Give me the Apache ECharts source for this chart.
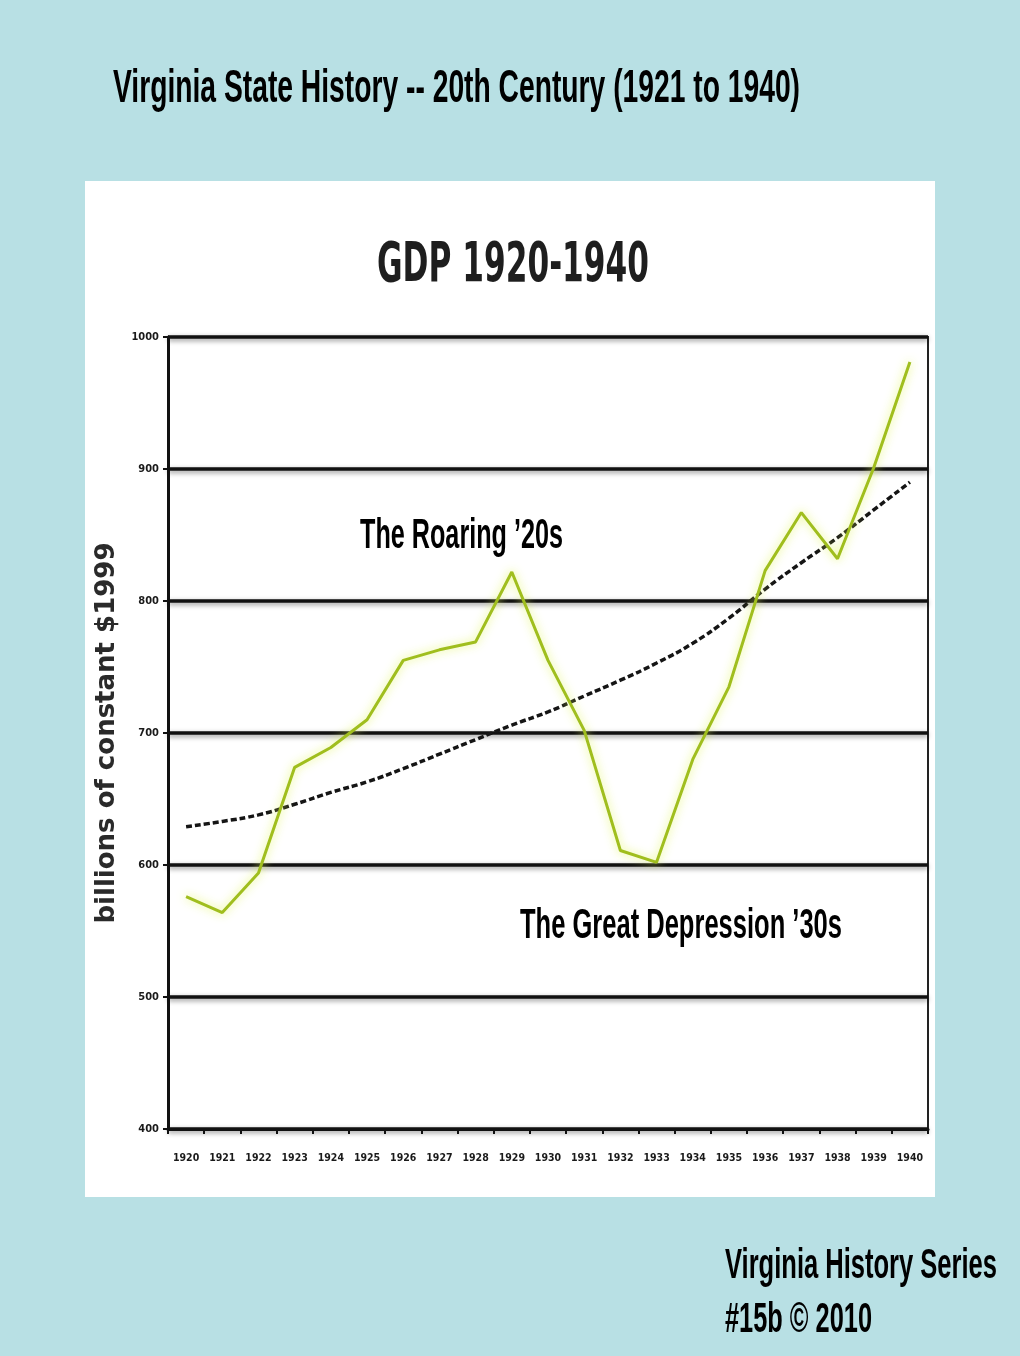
<!DOCTYPE html>
<html>
<head>
<meta charset="utf-8">
<script src="https://cdn.jsdelivr.net/npm/echarts@6/dist/echarts.min.js"></script>
<style>
  html, body { margin: 0; padding: 0; background: #b8e0e4; }
  #chart { width: 1020px; height: 1356px; }
</style>
</head>
<body>
<div id="chart"></div>
<script>
// years on the x axis
const years = ['1920', '1921', '1922', '1923', '1924', '1925', '1926', '1927', '1928', '1929', '1930',
  '1931', '1932', '1933', '1934', '1935', '1936', '1937', '1938', '1939', '1940'];
// GDP, billions of constant $1999
const gdp = [576, 564, 594, 674, 689, 710, 755, 763, 769, 822, 755,
  702, 611, 602, 680, 735, 823, 867, 832, 901, 981];
// dotted trend line
const trend = [629, 633, 638, 646, 655, 663, 673, 684, 695, 706, 716,
  728, 740, 753, 768, 787, 809, 829, 848, 869, 890];
const yTicks = [400, 500, 600, 700, 800, 900, 1000];

// the slide uses a narrow bold face; squeeze a normal one to the same width
const narrow = 'bold 46px "Liberation Sans", Arial, sans-serif';
const ctx = document.createElement('canvas').getContext('2d');
function squeeze(text, font, width) {
  ctx.font = font;
  return width / ctx.measureText(text).width;
}
function label(text, font, x, y, width, fill) {
  return {
    type: 'text',
    x: x,
    y: y,
    scaleX: squeeze(text, font, width),
    style: { x: 0, y: 0, text: text, font: font, fill: fill || '#000', align: 'left', verticalAlign: 'middle' }
  };
}

const myChart = echarts.init(document.getElementById('chart'));

const option = {
  backgroundColor: '#b8e0e4',
  animation: false,
  graphic: [
    {
      type: 'rect',
      z: -100,
      silent: true,
      shape: { x: 85, y: 181, width: 850, height: 1016 },
      style: { fill: '#ffffff' }
    },
    label('Virginia State History -- 20th Century (1921 to 1940)', narrow, 113, 89, 687),
    label('The Roaring \u201920s', 'bold 42px "Liberation Sans", Arial, sans-serif', 360, 536, 203),
    label('The Great Depression \u201930s', 'bold 42px "Liberation Sans", Arial, sans-serif', 520, 926, 322),
    label('Virginia History Series', 'bold 42px "Liberation Sans", Arial, sans-serif', 725, 1266, 272),
    label('#15b \u00a9 2010', 'bold 42px "Liberation Sans", Arial, sans-serif', 725, 1320, 147),
    {
      type: 'text',
      x: 377,
      y: 266,
      scaleX: squeeze('GDP 1920-1940', 'bold 56px "DejaVu Sans Condensed", sans-serif', 272),
      style: {
        x: 0, y: 0,
        text: 'GDP 1920-1940',
        font: 'bold 56px "DejaVu Sans Condensed", sans-serif',
        fill: '#1e1e1e',
        align: 'left',
        verticalAlign: 'middle',
        shadowColor: 'rgba(0,0,0,0.4)',
        shadowBlur: 3
      }
    }
  ],
  grid: {
    left: 168,
    right: 92,
    top: 337,
    bottom: 227,
    show: true,
    borderColor: '#222',
    borderWidth: 2,
    backgroundColor: 'transparent'
  },
  xAxis: {
    type: 'category',
    data: years,
    boundaryGap: true,
    axisLine: { lineStyle: { color: '#111', width: 3 } },
    axisTick: { show: true, length: 5, lineStyle: { color: '#111', width: 2 } },
    axisLabel: {
      interval: 0,
      hideOverlap: false,
      color: '#1a1a1a',
      fontFamily: '"DejaVu Sans Condensed", sans-serif',
      fontWeight: 'bold',
      fontSize: 10.5,
      margin: 24
    }
  },
  yAxis: {
    type: 'value',
    min: yTicks[0],
    max: yTicks[yTicks.length - 1],
    interval: 100,
    name: 'billions of constant $1999',
    nameLocation: 'middle',
    nameGap: 34,
    nameTextStyle: {
      fontFamily: '"DejaVu Sans", sans-serif',
      fontWeight: 'bold',
      fontSize: 26,
      color: '#2a2a2a'
    },
    axisLine: { show: true, lineStyle: { color: '#111', width: 3 } },
    axisTick: { show: true, length: 5, lineStyle: { color: '#111', width: 2 } },
    axisLabel: {
      color: '#1a1a1a',
      fontFamily: '"DejaVu Sans Condensed", sans-serif',
      fontWeight: 'bold',
      fontSize: 11,
      margin: 9,
      formatter: (v) => String(v)
    },
    splitLine: {
      lineStyle: {
        color: '#111',
        width: 3.5,
        shadowColor: 'rgba(0,0,0,0.45)',
        shadowBlur: 5,
        shadowOffsetY: 2
      }
    }
  },
  series: [
    {
      name: 'Trend',
      type: 'line',
      data: trend,
      showSymbol: false,
      smooth: true,
      z: 3,
      lineStyle: { color: '#151515', width: 3.5, type: [6, 3] }
    },
    {
      name: 'GDP',
      type: 'line',
      data: gdp,
      showSymbol: false,
      z: 4,
      lineStyle: {
        color: '#a0be1e',
        width: 3,
        shadowColor: 'rgba(225,245,90,0.9)',
        shadowBlur: 10
      }
    }
  ]
};

myChart.setOption(option);
</script>
</body>
</html>
